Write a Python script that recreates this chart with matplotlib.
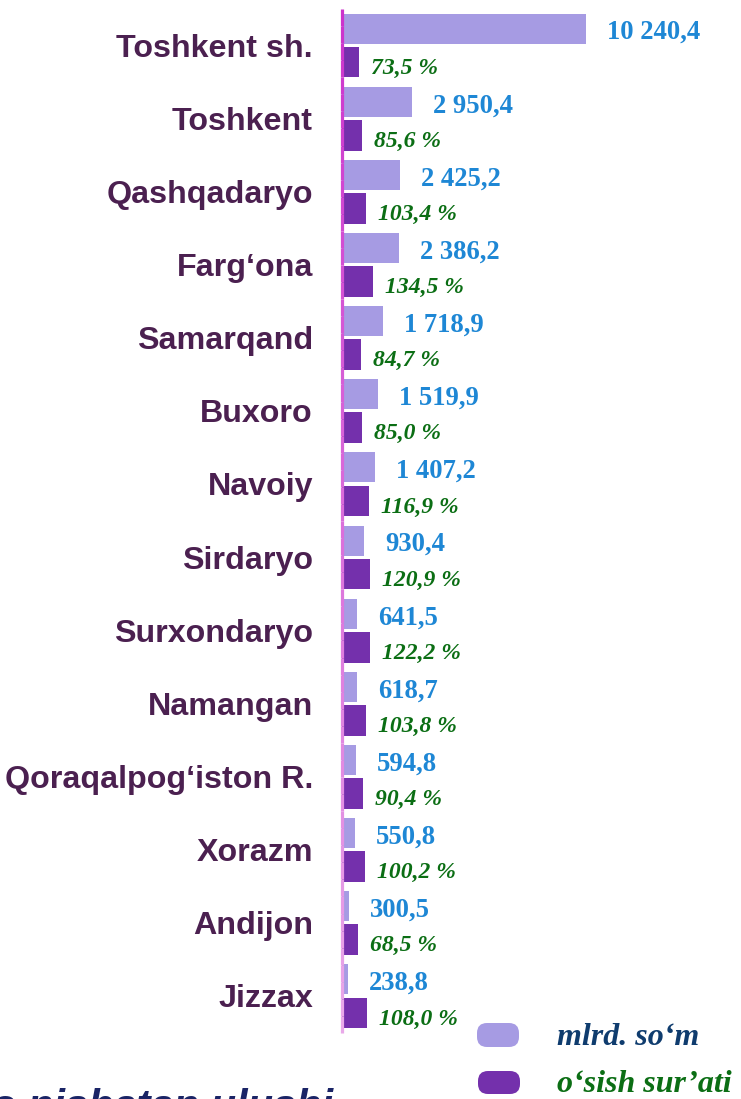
import matplotlib
matplotlib.use("Agg")
import matplotlib.pyplot as plt
import numpy as np
from matplotlib.patches import FancyBboxPatch
from matplotlib.collections import LineCollection
from matplotlib.colors import to_rgb
from matplotlib.transforms import IdentityTransform

regions = ["Toshkent sh.", "Toshkent", "Qashqadaryo", "Farg\u2018ona", "Samarqand",
           "Buxoro", "Navoiy", "Sirdaryo", "Surxondaryo", "Namangan",
           "Qoraqalpog\u2018iston R.", "Xorazm", "Andijon", "Jizzax"]
values = [10240.4, 2950.4, 2425.2, 2386.2, 1718.9, 1519.9, 1407.2,
          930.4, 641.5, 618.7, 594.8, 550.8, 300.5, 238.8]
growth = [73.5, 85.6, 103.4, 134.5, 84.7, 85.0, 116.9,
          120.9, 122.2, 103.8, 90.4, 100.2, 68.5, 108.0]
legend_labels = ["mlrd. so\u2018m", "o\u2018sish sur\u2019ati"]
footer_text = "o nisbatan ulushi"

W, H = 741, 1099
C_LIGHT = "#a69be3"
C_DARK = "#7430ac"
C_CAT = "#4b2050"
C_VAL = "#1e87d5"
C_PCT = "#0b6e14"
C_LEG1 = "#0f3c6e"
C_FOOT = "#1a2466"

def fmt_val(v):
    s = f"{v:,.1f}"
    return s.replace(",", " ").replace(".", ",")

def fmt_pct(p):
    return f"{p:.1f}".replace(".", ",") + " %"

fig = plt.figure(figsize=(W / 100, H / 100), dpi=100)
ax_left, ax_right, ax_top, ax_bot = 342, 741, 9, 1033
ax = fig.add_axes([ax_left / W, 1 - ax_bot / H, (ax_right - ax_left) / W, (ax_bot - ax_top) / H])
ax2 = ax.twiny()

n = len(regions)
y = np.arange(n)
px_w = ax_right - ax_left
ax.set_xlim(0, px_w / 0.0238)
ax2.set_xlim(0, px_w / 0.23)
for a in (ax, ax2):
    a.set_ylim(n - 0.5, -0.5)
    a.axis("off")

ax.barh(y - 0.232, values, height=0.41, color=C_LIGHT, zorder=2)
ax2.barh(y + 0.226, growth, height=0.42, color=C_DARK, zorder=2)

for i in range(n):
    ax.annotate(regions[i], xy=(0, y[i]), xycoords=("axes fraction", "data"),
                xytext=(-29, -11), textcoords="offset pixels",
                ha="right", va="baseline", fontsize=23.2, fontweight="bold",
                family="Liberation Sans", color=C_CAT, annotation_clip=False)
    ax.annotate(fmt_val(values[i]), xy=(values[i], y[i] - 0.232),
                xytext=(21, -10.5), textcoords="offset pixels",
                ha="left", va="baseline", fontsize=19.2, fontweight="bold",
                family="Liberation Serif", color=C_VAL, annotation_clip=False)
    ax2.annotate(fmt_pct(growth[i]), xy=(growth[i], y[i] + 0.226),
                 xytext=(12, -11.5), textcoords="offset pixels",
                 ha="left", va="baseline", fontsize=17, fontweight="bold",
                 fontstyle="italic", family="Liberation Serif", color=C_PCT,
                 annotation_clip=False)

# gradient vertical axis line
c0, c1 = np.array(to_rgb("#cc33cc")), np.array(to_rgb("#e9a9e9"))
ys = np.linspace(H - ax_top, H - ax_bot, 61)
segs = [[(341.5, ys[k]), (341.5, ys[k + 1])] for k in range(60)]
cols = [tuple(c0 + (c1 - c0) * (k / 59)) for k in range(60)]
lc = LineCollection(segs, colors=cols, linewidths=2.3, transform=IdentityTransform(), zorder=5)
fig.add_artist(lc)

# legend
leg_boxes = [(477, 1023, 42, 24, C_LIGHT), (478, 1071, 42, 23, C_DARK)]
for (x0, y0, w, h, c) in leg_boxes:
    p = FancyBboxPatch((x0 + 10, H - y0 - h + 10), w - 20, h - 20,
                       boxstyle="round,pad=10", facecolor=c, edgecolor="none",
                       transform=IdentityTransform())
    fig.add_artist(p)
fig.text(557 / W, 1 - 1045 / H, legend_labels[0], fontsize=23, fontweight="bold",
         fontstyle="italic", family="Liberation Serif", color=C_LEG1, va="baseline")
fig.text(557 / W, 1 - 1092 / H, legend_labels[1], fontsize=23, fontweight="bold",
         fontstyle="italic", family="Liberation Serif", color=C_PCT, va="baseline")

fig.text(-9 / W, 1 - 1119 / H, footer_text, fontsize=30, fontweight="bold",
         fontstyle="italic", family="Liberation Sans", color=C_FOOT, va="baseline")

fig.savefig("out.png", dpi=100)
